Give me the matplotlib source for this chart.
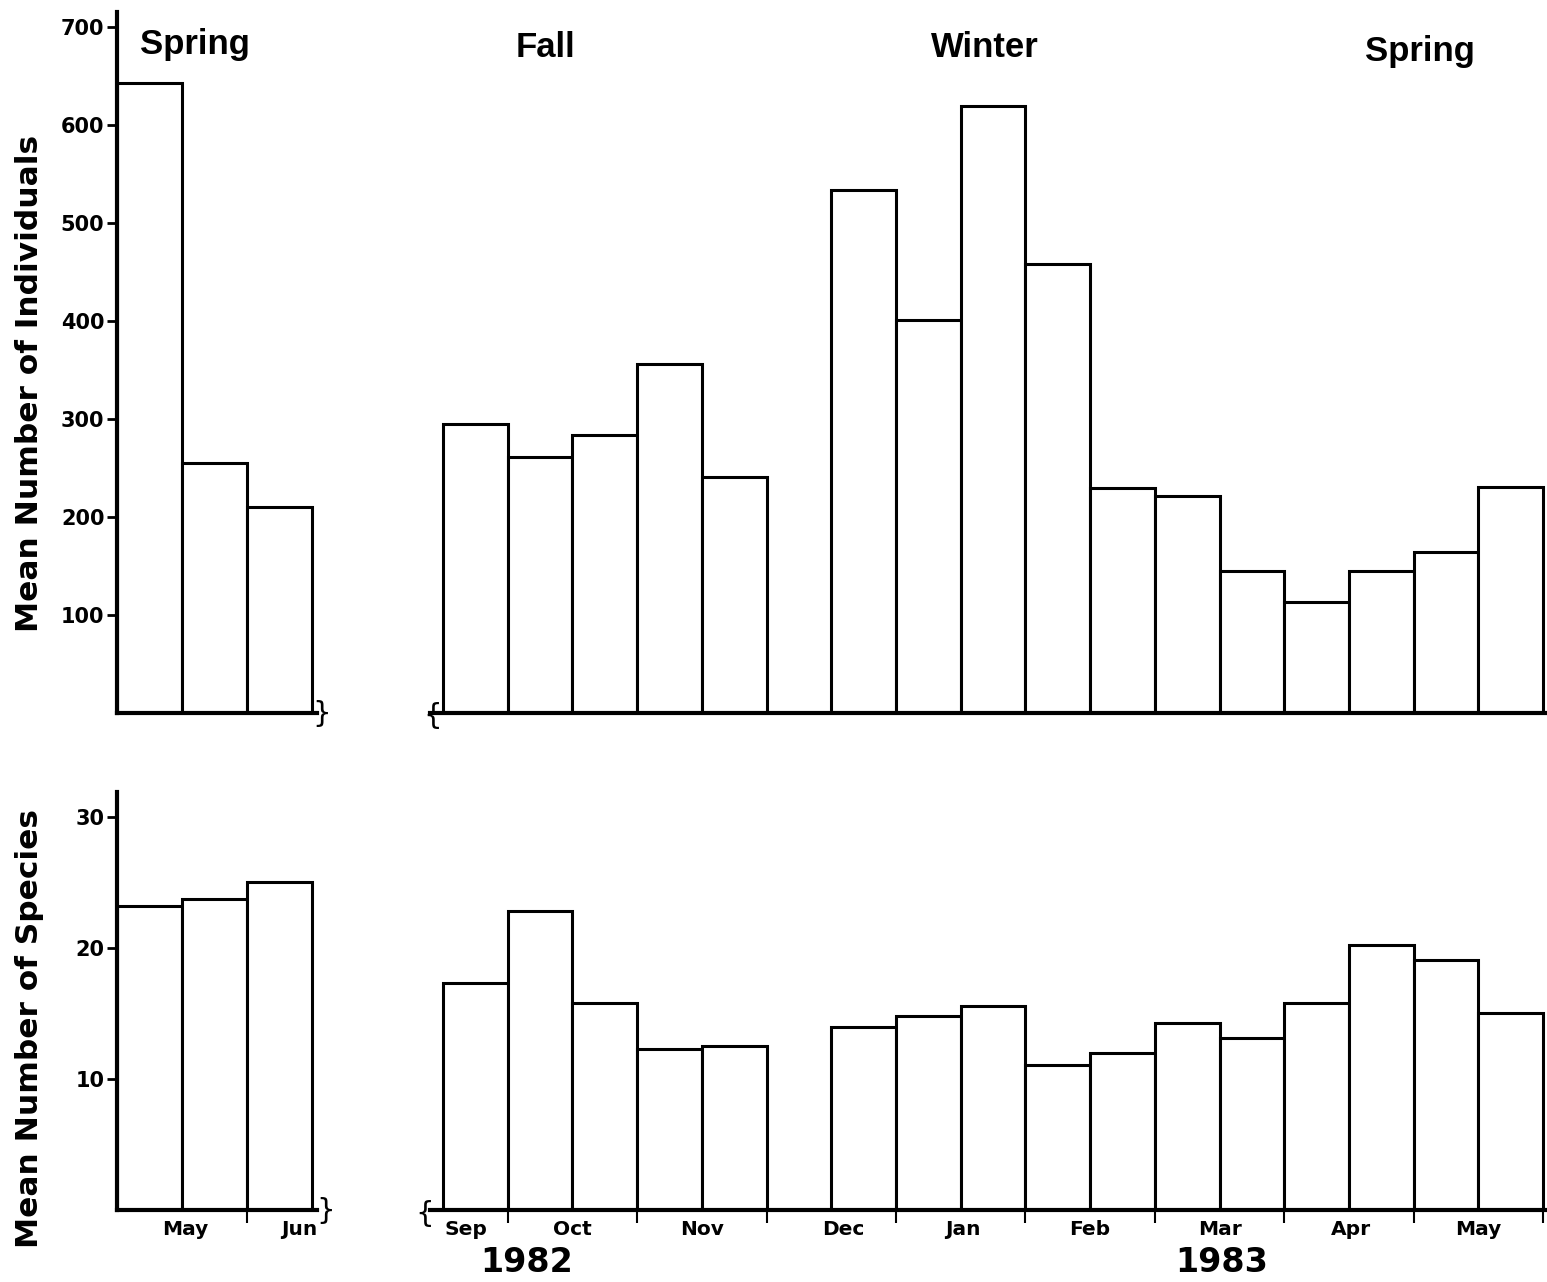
import numpy as np
import matplotlib
matplotlib.use("Agg")
import matplotlib.pyplot as plt
import matplotlib.transforms as mtransforms

# spring 1982 (left block), three half-month samples
spring82_ind = [643, 255, 210]
spring82_spp = [23.2, 23.7, 25.0]
spring82_months = ["May", "Jun"]

# Sep 1982 - May 1983 (right block), half-month samples, gap after Nov
pos_8283 = [0, 1, 2, 3, 4, 6, 7, 8, 9, 10, 11, 12, 13, 14, 15, 16]
ind_8283 = [295, 261, 284, 356, 241, 533, 401, 619, 458, 229, 221, 145, 113, 145, 164, 231]
spp_8283 = [17.3, 22.8, 15.8, 12.3, 12.5, 14.0, 14.8, 15.6, 11.1, 12.0, 14.3, 13.1, 15.8, 20.2, 19.1, 15.0]
months_8283 = ["Sep", "Oct", "Nov", "Dec", "Jan", "Feb", "Mar", "Apr", "May"]
month_lbl_pos = [0.36, 2, 4, 6.18, 8.04, 10, 12, 14.03, 16.0]
month_edges = [1, 3, 5, 7, 9, 11, 13, 15, 17]

seasons = ["Spring", "Fall", "Winter", "Spring"]

bar_lw = 2.2
axis_lw = 3.0
tick_font = {"family": "DejaVu Sans", "weight": "bold", "size": 15}
month_font = {"family": "DejaVu Sans", "weight": "bold", "size": 14.5}
label_font = {"family": "DejaVu Sans", "weight": "bold", "size": 22.5}

fig = plt.figure(figsize=(15.47, 12.82), dpi=100)

W, H = 1547.0, 1282.0
def rect(x0, x1, ytop, ybot):
    return [x0 / W, 1 - ybot / H, (x1 - x0) / W, (ybot - ytop) / H]

ax_tl = fig.add_axes(rect(117, 317, 12, 713))
ax_tr = fig.add_axes(rect(430, 1547, 12, 713))
ax_bl = fig.add_axes(rect(117, 317, 792, 1210))
ax_br = fig.add_axes(rect(430, 1547, 792, 1210))

def style(ax, left_axis):
    for s in ["top", "right"]:
        ax.spines[s].set_visible(False)
    ax.spines["bottom"].set_linewidth(axis_lw)
    ax.spines["left"].set_linewidth(axis_lw)
    ax.spines["left"].set_visible(left_axis)
    ax.patch.set_alpha(0)

for ax in (ax_tl, ax_tr, ax_bl, ax_br):
    style(ax, ax in (ax_tl, ax_bl))

# bars
ax_tl.bar(np.arange(3), spring82_ind, width=1, align="edge", color="white",
          edgecolor="black", linewidth=bar_lw)
ax_bl.bar(np.arange(3), spring82_spp, width=1, align="edge", color="white",
          edgecolor="black", linewidth=bar_lw)
ax_tr.bar(pos_8283, ind_8283, width=1, align="edge", color="white",
          edgecolor="black", linewidth=bar_lw)
ax_br.bar(pos_8283, spp_8283, width=1, align="edge", color="white",
          edgecolor="black", linewidth=bar_lw)

# limits
ax_tl.set_xlim(0, 3.08)
ax_bl.set_xlim(0, 3.08)
ax_tr.set_xlim(-0.2, 17.06)
ax_br.set_xlim(-0.2, 17.06)
for ax in (ax_tl, ax_tr):
    ax.set_ylim(0, 715)
for ax in (ax_bl, ax_br):
    ax.set_ylim(0, 31.9)

# y ticks
ax_tl.set_yticks([100, 200, 300, 400, 500, 600, 700])
ax_bl.set_yticks([10, 20, 30])
for ax in (ax_tl, ax_bl):
    ax.tick_params(axis="y", direction="out", length=7, width=2, pad=2)
    for t in ax.get_yticklabels():
        t.set_fontproperties(matplotlib.font_manager.FontProperties(**tick_font))
for ax in (ax_tr, ax_br):
    ax.set_yticks([])

# top x axes: nothing
for ax in (ax_tl, ax_tr):
    ax.set_xticks([])

# bottom x axes: boundary ticks + month labels
ax_bl.set_xticks([2])
ax_bl.set_xticklabels([])
ax_bl.set_xticks([1.05, 2.8], minor=True)
ax_bl.set_xticklabels(spring82_months, minor=True, fontdict=month_font)
ax_br.set_xticks(month_edges)
ax_br.set_xticklabels([])
ax_br.set_xticks(month_lbl_pos, minor=True)
ax_br.set_xticklabels(months_8283, minor=True, fontdict=month_font)
for ax in (ax_bl, ax_br):
    ax.tick_params(axis="x", which="major", direction="out", length=9, width=1.5)
    ax.tick_params(axis="x", which="minor", length=0, pad=7)

# year labels
tr = mtransforms.blended_transform_factory(ax_br.transData, ax_br.transAxes)
ax_br.text(1.3, -0.125, "1982", transform=tr, ha="center", va="center",
           family="DejaVu Sans", weight="bold", size=24)
ax_br.text(12.04, -0.125, "1983", transform=tr, ha="center", va="center",
           family="DejaVu Sans", weight="bold", size=24)

# season labels
sfont = dict(family="Liberation Sans", weight="bold", size=25, ha="center", va="center")
ax_tl.text(1.2, 682, seasons[0], **sfont)
ax_tr.text(1.58, 679, seasons[1], **sfont)
ax_tr.text(8.38, 679, seasons[2], **sfont)
ax_tr.text(15.1, 675, seasons[3], **sfont)

# axis break braces
bfont = dict(family="DejaVu Sans", size=21, ha="center", va="center")
fig.text(322 / W, 1 - 714 / H, "}", **bfont)
fig.text(433 / W, 1 - 716 / H, "{", **bfont)
fig.text(326 / W, 1 - 1211 / H, "}", **bfont)
fig.text(425 / W, 1 - 1214 / H, "{", **bfont)

# y labels
fig.text(30 / W, 1 - 383 / H, "Mean Number of Individuals", rotation=90,
         ha="center", va="center", **label_font)
fig.text(30 / W, 1 - 1028 / H, "Mean Number of Species", rotation=90,
         ha="center", va="center", **label_font)

fig.savefig("out.png", dpi=100, facecolor="white")
